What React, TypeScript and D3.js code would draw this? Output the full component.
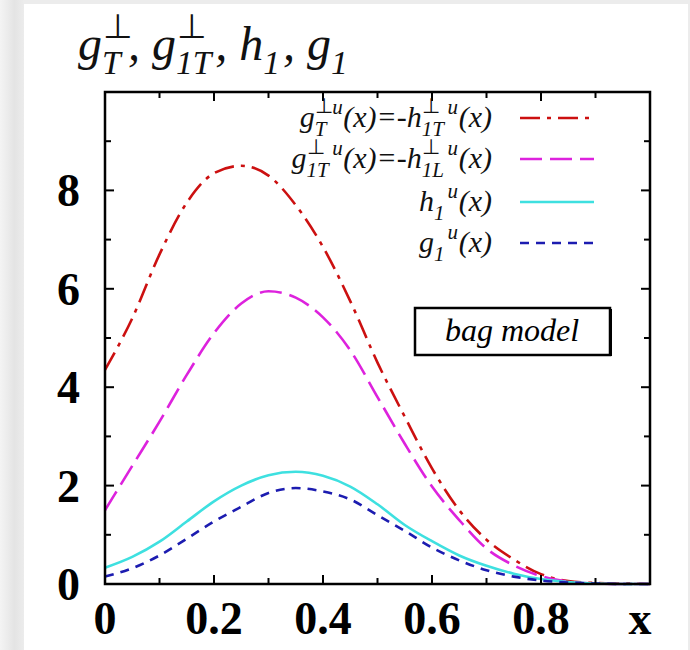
import React from 'react';
import * as d3 from 'd3';

const W = 690;
const H = 650;

// x grid and curves
const xGrid = [0, 0.05, 0.1, 0.15, 0.2, 0.25, 0.3, 0.35, 0.4, 0.45, 0.5, 0.55, 0.6, 0.65, 0.7, 0.75, 0.8, 0.85, 0.9, 0.95, 1.0];
const gTperp = [4.35, 5.4, 6.7, 7.75, 8.35, 8.5, 8.3, 7.7, 6.85, 5.75, 4.5, 3.4, 2.35, 1.5, 0.9, 0.5, 0.2, 0.06, 0.02, 0.01, 0.0];
const g1Tperp = [1.5, 2.4, 3.3, 4.25, 5.1, 5.7, 5.95, 5.82, 5.42, 4.75, 3.8, 2.85, 1.98, 1.3, 0.72, 0.38, 0.16, 0.05, 0.01, 0.0, 0.0];
const h1 = [0.33, 0.55, 0.86, 1.27, 1.68, 2.0, 2.21, 2.28, 2.2, 1.98, 1.62, 1.2, 0.87, 0.58, 0.37, 0.21, 0.1, 0.04, 0.01, 0.0, 0.0];
const g1 = [0.15, 0.32, 0.58, 0.92, 1.27, 1.57, 1.85, 1.95, 1.88, 1.72, 1.4, 1.08, 0.74, 0.48, 0.28, 0.15, 0.07, 0.03, 0.01, 0.0, 0.0];

const xTickLabels = ['0', '0.2', '0.4', '0.6', '0.8'];
const yTickLabels = ['0', '2', '4', '6', '8'];

const serif = "'Liberation Serif', 'Times New Roman', serif";

// rough Times italic advance widths (em)
const cw: Record<string, number> = {
  g: 0.5, T: 0.556, '1': 0.5, L: 0.556, u: 0.5, '(': 0.333, x: 0.444, ')': 0.333,
  '=': 0.675, '-': 0.333, h: 0.5, ',': 0.25, ' ': 0.25, '⊥': 0.66,
};
const textW = (s: string) => s.split('').reduce((a, c) => a + (cw[c] ?? 0.5), 0);

type Tok = { s: string; k: 'n' | 'sub' | 'sup' | 'ss' };

function mathText(tokens: Tok[], F: number, x0: number, y0: number, anchor: 'start' | 'end', key: string) {
  const r = 0.7;
  let total = 0;
  const widths = tokens.map((t) => {
    let w = 0;
    if (t.k === 'n') w = textW(t.s) * F;
    else if (t.k === 'ss') w = Math.max(textW(t.s) * F * r, cw['⊥'] * F * r) + 0.08 * F;
    else w = textW(t.s) * F * r + 0.06 * F;
    total += w;
    return w;
  });
  let cx = anchor === 'end' ? x0 - total : x0;
  const els: React.ReactNode[] = [];
  tokens.forEach((t, i) => {
    const common = { fontFamily: serif, fill: '#111' };
    if (t.k === 'n') {
      els.push(<text key={`${key}${i}`} x={cx} y={y0} fontSize={F} fontStyle="italic" {...common}>{t.s}</text>);
    } else if (t.k === 'sub') {
      els.push(<text key={`${key}${i}`} x={cx} y={y0 + 0.3 * F} fontSize={F * r} fontStyle="italic" {...common}>{t.s}</text>);
    } else if (t.k === 'sup') {
      els.push(<text key={`${key}${i}`} x={cx + 0.04 * F} y={y0 - 0.45 * F} fontSize={F * r} fontStyle="italic" {...common}>{t.s}</text>);
    } else {
      els.push(<text key={`${key}${i}a`} x={cx} y={y0 + 0.3 * F} fontSize={F * r} fontStyle="italic" {...common}>{t.s}</text>);
      els.push(<text key={`${key}${i}b`} x={cx + 0.02 * F} y={y0 - 0.46 * F} fontSize={F * r} {...common}>⊥</text>);
    }
    cx += widths[i];
  });
  return els;
}

const legendItems = [
  {
    tokens: [
      { s: 'g', k: 'n' }, { s: 'T', k: 'ss' }, { s: 'u', k: 'sup' }, { s: '(x)=-h', k: 'n' },
      { s: '1T', k: 'ss' }, { s: 'u', k: 'sup' }, { s: '(x)', k: 'n' },
    ] as Tok[],
    data: gTperp, color: '#cc1010', dash: '20,7,4,7',
  },
  {
    tokens: [
      { s: 'g', k: 'n' }, { s: '1T', k: 'ss' }, { s: 'u', k: 'sup' }, { s: '(x)=-h', k: 'n' },
      { s: '1L', k: 'ss' }, { s: 'u', k: 'sup' }, { s: '(x)', k: 'n' },
    ] as Tok[],
    data: g1Tperp, color: '#dd22dd', dash: '22,8',
  },
  {
    tokens: [{ s: 'h', k: 'n' }, { s: '1', k: 'sub' }, { s: 'u', k: 'sup' }, { s: '(x)', k: 'n' }] as Tok[],
    data: h1, color: '#3ee0e0', dash: '',
  },
  {
    tokens: [{ s: 'g', k: 'n' }, { s: '1', k: 'sub' }, { s: 'u', k: 'sup' }, { s: '(x)', k: 'n' }] as Tok[],
    data: g1, color: '#1c1cb0', dash: '9,7',
  },
];

const titleTokens: Tok[] = [
  { s: 'g', k: 'n' }, { s: 'T', k: 'ss' }, { s: ', g', k: 'n' }, { s: '1T', k: 'ss' },
  { s: ', h', k: 'n' }, { s: '1', k: 'sub' }, { s: ', g', k: 'n' }, { s: '1', k: 'sub' },
];

export default function App() {
  const x = d3.scaleLinear().domain([0, 1]).range([105, 650]);
  const y = d3.scaleLinear().domain([0, 10]).range([584, 92]);

  const line = d3.line<number>()
    .x((_, i) => x(xGrid[i]))
    .y((d) => y(d))
    .curve(d3.curveMonotoneX);

  const xt = x.ticks(10);
  const yt = y.ticks(10);

  return (
    <svg width={W} height={H} style={{ position: 'absolute', left: 0, top: 0 }}>
      <defs>
        <linearGradient id="edge" x1="0" x2="1" y1="0" y2="0">
          <stop offset="0" stopColor="#f4f4f4" />
          <stop offset="0.6" stopColor="#e4e4e4" />
          <stop offset="1" stopColor="#ececec" />
        </linearGradient>
      </defs>
      <rect x={0} y={0} width={W} height={H} fill="#ececec" />
      <rect x={0} y={0} width={24} height={H} fill="url(#edge)" />
      <rect x={24} y={4} width={664} height={H - 4} fill="#fff" />

      {mathText(titleTokens, 48, 78, 60, 'start', 't')}

      {/* curves */}
      {legendItems.map((it, i) => (
        <path key={`c${i}`} d={line(it.data) ?? ''} fill="none" stroke={it.color}
          strokeWidth={2.6} strokeDasharray={it.dash || undefined} />
      ))}

      {/* frame and ticks */}
      <rect x={x(0)} y={y(10)} width={x(1) - x(0)} height={y(0) - y(10)} fill="none" stroke="#000" strokeWidth={2.5} />
      {xt.map((t, i) => {
        const len = i % 2 === 0 ? 9 : 6;
        return (
          <g key={`xt${i}`} stroke="#000" strokeWidth={2}>
            <line x1={x(t)} x2={x(t)} y1={y(0)} y2={y(0) - len} />
            <line x1={x(t)} x2={x(t)} y1={y(10)} y2={y(10) + len} />
          </g>
        );
      })}
      {yt.map((t, i) => {
        const len = i % 2 === 0 ? 9 : 6;
        return (
          <g key={`yt${i}`} stroke="#000" strokeWidth={2}>
            <line x1={x(0)} x2={x(0) + len} y1={y(t)} y2={y(t)} />
            <line x1={x(1)} x2={x(1) - len} y1={y(t)} y2={y(t)} />
          </g>
        );
      })}

      {xTickLabels.map((l) => (
        <text key={`xl${l}`} x={x(+l)} y={634} textAnchor="middle" fontFamily={serif}
          fontWeight="bold" fontSize={46}>{l}</text>
      ))}
      <text x={x(1) - 10} y={634} textAnchor="middle" fontFamily={serif} fontWeight="bold" fontSize={46}>x</text>
      {yTickLabels.map((l) => (
        <text key={`yl${l}`} x={80} y={y(+l) + 16} textAnchor="end" fontFamily={serif}
          fontWeight="bold" fontSize={46}>{l}</text>
      ))}

      {/* legend */}
      {legendItems.map((it, i) => {
        const ly = [118, 159, 202, 243][i];
        return (
          <g key={`lg${i}`}>
            {mathText(it.tokens, 30, 492, ly + 9, 'end', `l${i}`)}
            <line x1={520} x2={594} y1={ly} y2={ly} stroke={it.color} strokeWidth={2.6}
              strokeDasharray={it.dash || undefined} />
          </g>
        );
      })}

      {/* label box */}
      <rect x={415} y={308} width={195} height={47} fill="#fff" stroke="#000" strokeWidth={2.5} />
      <line x1={611} y1={309} x2={611} y2={356} stroke="#000" strokeWidth={2} />
      <text x={512} y={341} textAnchor="middle" fontFamily={serif} fontStyle="italic" fontSize={32}>bag model</text>
    </svg>
  );
}
